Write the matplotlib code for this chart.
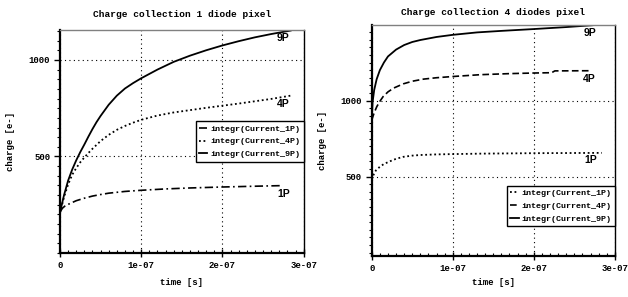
import numpy as np
import matplotlib.pyplot as plt
from matplotlib.ticker import MultipleLocator

# time values in units of 1e-7 s, charge in e-

# left plot: 1 diode pixel
t1_9p = [0, 0.05, 0.1, 0.15, 0.2, 0.25, 0.3, 0.35, 0.4, 0.45, 0.5, 0.6, 0.7, 0.8, 0.9, 1.0,
         1.2, 1.4, 1.6, 1.8, 2.0, 2.2, 2.4, 2.6, 2.84]
q1_9p = [210, 300, 375, 432, 480, 523, 562, 603, 642, 678, 710, 768, 815, 852, 880, 905,
         950, 990, 1022, 1050, 1075, 1097, 1117, 1134, 1152]
t1_4p = [0, 0.05, 0.1, 0.15, 0.2, 0.25, 0.3, 0.35, 0.4, 0.5, 0.6, 0.7, 0.8, 0.9, 1.0,
         1.2, 1.4, 1.6, 1.8, 2.0, 2.2, 2.4, 2.6, 2.84]
q1_4p = [208, 290, 355, 405, 440, 470, 495, 518, 540, 580, 612, 638, 658, 675, 690,
         712, 728, 740, 752, 763, 774, 786, 798, 815]
t1_1p = [0, 0.03, 0.06, 0.1, 0.2, 0.3, 0.4, 0.5, 0.6, 0.8, 1.0, 1.3, 1.6, 2.0, 2.4, 2.72]
q1_1p = [212, 232, 243, 252, 271, 284, 295, 303, 310, 319, 325, 332, 337, 342, 346, 349]

# right plot: 4 diodes pixel
t4_9p = [0, 0.01, 0.03, 0.06, 0.1, 0.15, 0.2, 0.3, 0.4, 0.5, 0.6, 0.8, 1.0, 1.3, 1.6, 2.0, 2.4, 2.72]
q4_9p = [870, 990, 1070, 1140, 1200, 1250, 1290, 1335, 1365, 1385, 1398, 1418, 1432, 1448, 1458,
         1470, 1483, 1495]
t4_4p = [0, 0.03, 0.062, 0.1, 0.14, 0.2, 0.27, 0.39, 0.5, 0.64, 0.8, 1.0, 1.34, 1.7, 2.0, 2.22,
         2.26, 2.69]
q4_4p = [873, 920, 960, 995, 1026, 1057, 1082, 1110, 1127, 1141, 1150, 1158, 1170, 1177, 1181,
         1183, 1195, 1196]
t4_1p = [0, 0.02, 0.05, 0.1, 0.15, 0.23, 0.3, 0.39, 0.5, 0.6, 0.8, 1.0, 1.34, 2.0, 2.84]
q4_1p = [480, 510, 540, 565, 583, 602, 617, 630, 638, 642, 646, 648, 651, 654, 656]

labels = ["integr(Current_1P)", "integr(Current_4P)", "integr(Current_9P)"]
titles = ["Charge collection 1 diode pixel", "Charge collection 4 diodes pixel"]

mono = "Liberation Mono"
sans = "Liberation Sans"


def to_s(t):
    return np.array(t) * 1e-7


fig = plt.figure(figsize=(6.28, 2.97), dpi=100)
ax1 = fig.add_axes([0.0955, 0.148, 0.388, 0.751])
ax2 = fig.add_axes([0.592, 0.138, 0.387, 0.778])

# left
ax1.plot(to_s(t1_1p), q1_1p, color="k", lw=1.2, ls=(0, (5, 2, 1, 2)), label=labels[0])
ax1.plot(to_s(t1_4p), q1_4p, color="k", lw=1.3, ls=(0, (1, 1.5)), label=labels[1])
ax1.plot(to_s(t1_9p), q1_9p, color="k", lw=1.3, ls="-", label=labels[2])
ax1.set_ylim(0, 1155)
ax1.text(2.75e-7, 1116, "9P", fontsize=7.5, fontweight="bold", family=sans, ha="center", va="center")
ax1.text(2.75e-7, 773, "4P", fontsize=7.5, fontweight="bold", family=sans, ha="center", va="center")
ax1.text(2.76e-7, 305, "1P", fontsize=7.5, fontweight="bold", family=sans, ha="center", va="center")

# right
ax2.plot(to_s(t4_1p), q4_1p, color="k", lw=1.3, ls=(0, (1, 1.5)), label=labels[0])
ax2.plot(to_s(t4_4p), q4_4p, color="k", lw=1.2, ls=(0, (4, 2)), label=labels[1])
ax2.plot(to_s(t4_9p), q4_9p, color="k", lw=1.3, ls="-", label=labels[2])
ax2.set_ylim(-22, 1497)
ax2.text(2.69e-7, 1447, "9P", fontsize=7.5, fontweight="bold", family=sans, ha="center", va="center")
ax2.text(2.69e-7, 1139, "4P", fontsize=7.5, fontweight="bold", family=sans, ha="center", va="center")
ax2.text(2.70e-7, 611, "1P", fontsize=7.5, fontweight="bold", family=sans, ha="center", va="center")

legend_y = [0.5, 0.216]
title_pad = [9, 7]
xlabel_pad = [5.5, 3.3]

for i, ax in enumerate([ax1, ax2]):
    ax.set_xlim(0, 3e-7)
    ax.set_xticks([0, 1e-7, 2e-7, 3e-7])
    ax.set_xticklabels(["0", "1e-07", "2e-07", "3e-07"])
    ax.set_yticks([500, 1000])
    ax.xaxis.set_minor_locator(MultipleLocator(1e-8))
    ax.yaxis.set_minor_locator(MultipleLocator(50))
    ax.grid(True, which="major", color="k", ls=(0, (1, 3)), lw=0.8)
    ax.tick_params(axis="y", which="major", direction="out", length=4, width=1)
    ax.tick_params(axis="y", which="minor", direction="out", length=2, width=0.8)
    ax.tick_params(axis="x", which="major", direction="inout", length=6, width=1)
    ax.tick_params(axis="x", which="minor", direction="in", length=2.5, width=0.8)
    ax.tick_params(which="both", labelsize=6.5, pad=3)
    for lab in ax.get_xticklabels() + ax.get_yticklabels():
        lab.set_family(mono)
        lab.set_fontweight("bold")
    ax.spines["left"].set_linewidth(1.6)
    ax.spines["bottom"].set_linewidth(1.6)
    ax.spines["right"].set_linewidth(1.0)
    ax.spines["top"].set_linewidth(1.0)
    ax.spines["top"].set_color("0.5")
    ax.set_title(titles[i], fontsize=6.8, fontweight="bold", family=mono, pad=title_pad[i])
    ax.set_xlabel("time [s]", fontsize=6.5, fontweight="bold", family=mono, labelpad=xlabel_pad[i])
    ax.set_ylabel("charge [e-]", fontsize=6.5, fontweight="bold", family=mono)
    ax.yaxis.set_label_coords(-45 / 244, 0.5)
    leg = ax.legend(loc="center right", bbox_to_anchor=(1.0, legend_y[i]), fancybox=False,
                    edgecolor="k", framealpha=1, borderaxespad=0, handlelength=1.0,
                    handletextpad=0.35, labelspacing=0.6, borderpad=0.4,
                    prop={"family": mono, "weight": "bold", "size": 6})
    leg.get_frame().set_linewidth(1.0)

fig.savefig("out.png", dpi=100)
